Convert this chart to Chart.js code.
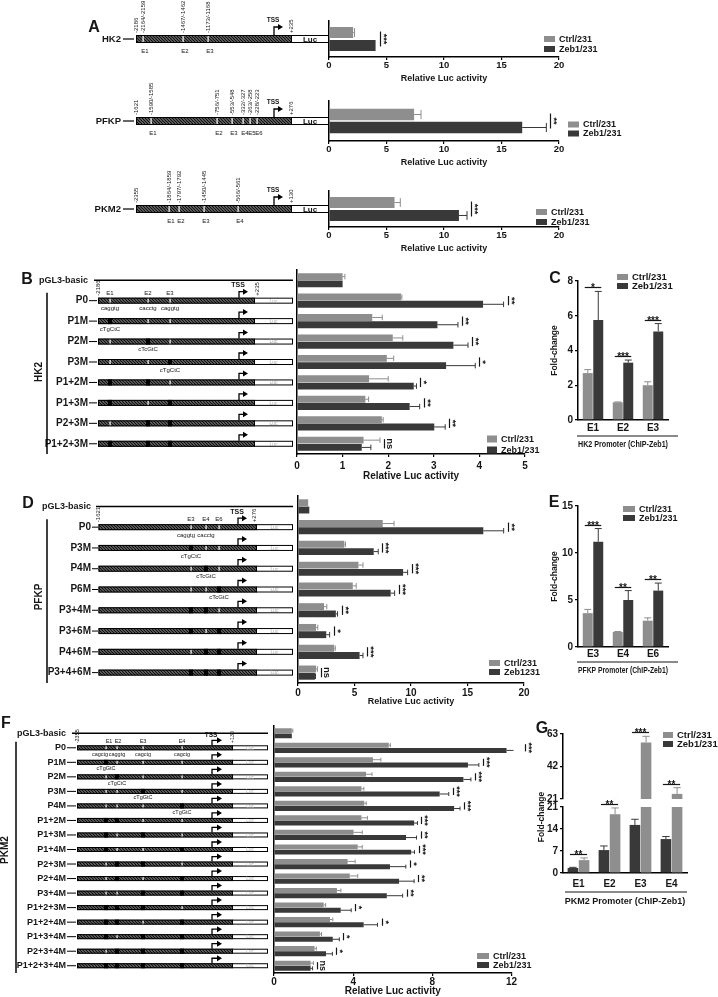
<!DOCTYPE html>
<html>
<head>
<meta charset="utf-8">
<title>Zeb1 promoter reporter assays</title>
<script src="https://cdn.jsdelivr.net/npm/chart.js@4.4.1/dist/chart.umd.min.js"></script>
<style>
  html, body { margin: 0; padding: 0; background: #fff; }
  #page { position: relative; width: 718px; height: 997px; overflow: hidden; background: #fff; }
  #page canvas { position: absolute; left: 0; top: 0; }
</style>
</head>
<body>
<div id="page"></div>
<script>
const W = 718, H = 997;
const FONT = '"Liberation Sans", Arial, Helvetica, sans-serif';
const GRAY = '#8e8e8e';
const DARK = '#393939';
const INK = '#161616';

Chart.defaults.font.family = FONT;
Chart.defaults.color = INK;

// ---- panel A: full-length promoters ----
const aTicks = [0, 5, 10, 15, 20];
const hk2Ctrl = [2.1], hk2CtrlSd = [0.12], hk2Zeb = [4.05], hk2ZebSd = [0], hk2Sig = ['***'];
const pfkpCtrl = [7.4], pfkpCtrlSd = [0.6], pfkpZeb = [16.8], pfkpZebSd = [2.1], pfkpSig = ['**'];
const pkm2Ctrl = [5.7], pkm2CtrlSd = [0.5], pkm2Zeb = [11.3], pkm2ZebSd = [0.7], pkm2Sig = ['***'];

// ---- panel B: HK2 mutants ----
const bTicks = [0, 1, 2, 3, 4, 5];
const bRows = ['pGL3-basic', 'P0', 'P1M', 'P2M', 'P3M', 'P1+2M', 'P1+3M', 'P2+3M', 'P1+2+3M'];
const bCtrl = [1.0, 2.28, 1.65, 2.1, 1.97, 1.58, 1.5, 1.86, 1.46];
const bCtrlSd = [0.05, 0.02, 0.22, 0.22, 0.15, 0.42, 0.07, 0.03, 0.36];
const bZeb = [1.0, 4.08, 3.08, 3.43, 3.27, 2.56, 2.47, 3.01, 1.42];
const bZebSd = [0, 0.45, 0.45, 0.32, 0.64, 0.06, 0.22, 0.24, 0.2];
const bSig = ['', '**', '**', '**', '*', '*', '**', '**', 'ns'];

// ---- panel C: HK2 ChIP ----
const cTicks = [0, 2, 4, 6, 8];
const cSites = ['E1', 'E2', 'E3'];
const cCtrl = [2.7, 1.02, 2.0], cCtrlSd = [0.2, 0.02, 0.2];
const cZeb = [5.75, 3.3, 5.1], cZebSd = [1.65, 0.15, 0.45];
const cSig = ['*', '***', '***'];

// ---- panel D: PFKP mutants ----
const dTicks = [0, 5, 10, 15, 20];
const dRows = ['pGL3-basic', 'P0', 'P3M', 'P4M', 'P6M', 'P3+4M', 'P3+6M', 'P4+6M', 'P3+4+6M'];
const dCtrl = [0.9, 7.5, 4.1, 5.35, 4.85, 2.3, 1.6, 3.2, 1.6];
const dCtrlSd = [0, 1.0, 0.1, 0.4, 0.3, 0.25, 0.15, 0.1, 0.12];
const dZeb = [1.0, 16.4, 6.7, 9.3, 8.2, 3.35, 2.5, 5.45, 1.5];
const dZebSd = [0, 1.8, 0.4, 0.4, 0.35, 0.15, 0.3, 0.3, 0.05];
const dSig = ['', '**', '***', '***', '***', '**', '*', '***', 'ns'];

// ---- panel E: PFKP ChIP ----
const eTicks = [0, 5, 10, 15];
const eSites = ['E3', 'E4', 'E6'];
const eCtrl = [3.6, 1.6, 2.8], eCtrlSd = [0.4, 0.05, 0.3];
const eZeb = [11.2, 5.0, 6.0], eZebSd = [1.4, 1.0, 0.8];
const eSig = ['***', '**', '**'];

// ---- panel F: PKM2 mutants ----
const fTicks = [0, 4, 8, 12];
const fRows = ['pGL3-basic', 'P0', 'P1M', 'P2M', 'P3M', 'P4M', 'P1+2M', 'P1+3M', 'P1+4M',
  'P2+3M', 'P2+4M', 'P3+4M', 'P1+2+3M', 'P1+2+4M', 'P1+3+4M', 'P2+3+4M', 'P1+2+3+4M'];
const fCtrl = [0.9, 5.8, 5.0, 4.65, 4.42, 4.56, 4.42, 4.02, 4.23, 3.72, 3.83, 3.18, 2.51, 2.83, 2.32, 2.05, 1.85];
const fCtrlSd = [0.05, 0.08, 0.4, 0.3, 0.12, 0.1, 0.3, 0.44, 0.23, 0.38, 0.4, 0.2, 0.1, 0.14, 0.08, 0.09, 0.14];
const fZeb = [0.9, 11.75, 9.8, 9.57, 8.37, 9.1, 7.08, 6.67, 6.93, 5.86, 6.32, 5.7, 3.37, 4.53, 2.97, 2.63, 1.85];
const fZebSd = [0, 0.75, 0.55, 0.38, 0.46, 0.3, 0.17, 0.53, 0.17, 0.8, 0.76, 0.8, 0.53, 0.7, 0.33, 0.32, 0.1];
const fSig = ['', '***', '***', '***', '***', '***', '***', '**', '***', '*', '**', '**', '*', '*', '*', '*', 'ns'];

// ---- panel G: PKM2 ChIP (broken axis) ----
const gTicksLow = [0, 7, 14, 21];
const gTicksHigh = [21, 42, 63];
const gSites = ['E1', 'E2', 'E3', 'E4'];
const gCtrl = [1.6, 7.3, 15.3, 10.8], gCtrlSd = [0.2, 1.3, 1.8, 0.8];
const gZeb = [4.1, 18.7, 57.5, 24.3], gZebSd = [0.7, 2.0, 4.0, 4.0];
const gSig = ['**', '**', '***', '**'];

// ---------- helpers ----------
function f(size, weight) { return (weight || 'bold') + ' ' + size + 'px ' + FONT; }

function addCanvas() {
  const c = document.createElement('canvas');
  c.width = W; c.height = H;
  document.getElementById('page').appendChild(c);
  return c;
}

function line(ctx, x1, y1, x2, y2) {
  ctx.beginPath(); ctx.moveTo(x1, y1); ctx.lineTo(x2, y2); ctx.stroke();
}

function rotText(ctx, s, x, yBottom, font) {
  ctx.save();
  ctx.translate(x, yBottom); ctx.rotate(-Math.PI / 2);
  ctx.font = font; ctx.textAlign = 'left'; ctx.textBaseline = 'middle';
  ctx.fillText(s, 0, 0);
  ctx.restore();
}

function hatch(ctx) {
  const t = document.createElement('canvas');
  t.width = 3; t.height = 3;
  const c = t.getContext('2d');
  c.fillStyle = '#fff'; c.fillRect(0, 0, 3, 3);
  c.strokeStyle = '#111'; c.lineWidth = 1.6;
  c.beginPath();
  c.moveTo(-1, -1); c.lineTo(4, 4);
  c.moveTo(-1, 2); c.lineTo(1, 4);
  c.moveTo(2, -1); c.lineTo(4, 1);
  c.stroke();
  return ctx.createPattern(t, 'repeat');
}

function drawConstruct(ctx, p, yc, muts) {
  const top = yc - p.h / 2;
  ctx.fillStyle = hatch(ctx);
  ctx.fillRect(p.x0, top, p.luc - p.x0, p.h);
  p.sites.forEach(s => {
    if (muts.includes(s.n)) { ctx.fillStyle = '#000'; ctx.fillRect(s.x - 2, top, 4, p.h); }
    else { ctx.fillStyle = '#fff'; ctx.fillRect(s.x - 0.5, top, 1.2, p.h); }
  });
  ctx.fillStyle = '#fff';
  ctx.fillRect(p.luc, top, p.x1 - p.luc, p.h);
  ctx.strokeStyle = '#000'; ctx.lineWidth = 1;
  ctx.strokeRect(p.x0 + 0.5, top + 0.5, p.x1 - p.x0 - 1, p.h - 1);
  line(ctx, p.luc + 0.5, top, p.luc + 0.5, top + p.h);
  ctx.fillStyle = p.lucColor; ctx.font = p.lucFont;
  ctx.textAlign = 'center'; ctx.textBaseline = 'middle';
  ctx.fillText('Luc', (p.luc + p.x1) / 2, yc + 0.5);
}

function drawTss(ctx, x, barTop, rise, len) {
  const y = barTop - rise;
  ctx.strokeStyle = '#000'; ctx.lineWidth = 1.3;
  ctx.beginPath(); ctx.moveTo(x, barTop); ctx.lineTo(x, y); ctx.lineTo(x + len - 3, y); ctx.stroke();
  ctx.fillStyle = '#000';
  ctx.beginPath();
  ctx.moveTo(x + len + 1, y); ctx.lineTo(x + len - 4, y - 3); ctx.lineTo(x + len - 4, y + 3);
  ctx.closePath(); ctx.fill();
}

// ---------- plugins ----------
const errorBars = {
  id: 'errorBars',
  afterDatasetsDraw(chart) {
    const ctx = chart.ctx, horiz = chart.options.indexAxis === 'y';
    const vs = horiz ? chart.scales.x : chart.scales.y;
    const a = chart.chartArea;
    ctx.save();
    ctx.beginPath(); ctx.rect(a.left - 2, a.top - 3, a.right - a.left + 4, a.bottom - a.top + 3); ctx.clip();
    chart.data.datasets.forEach((ds, di) => {
      chart.getDatasetMeta(di).data.forEach((el, i) => {
        const sd = ds.sd ? ds.sd[i] : 0;
        if (!sd) return;
        const p0 = vs.getPixelForValue(ds.data[i]), p1 = vs.getPixelForValue(ds.data[i] + sd);
        ctx.strokeStyle = ds.backgroundColor; ctx.lineWidth = 1;
        ctx.beginPath();
        if (horiz) {
          const c = el.height * 0.4;
          ctx.moveTo(p0, el.y); ctx.lineTo(p1, el.y);
          ctx.moveTo(p1, el.y - c); ctx.lineTo(p1, el.y + c);
        } else {
          const c = el.width * 0.35;
          ctx.moveTo(el.x, p0); ctx.lineTo(el.x, p1);
          ctx.moveTo(el.x - c, p1); ctx.lineTo(el.x + c, p1);
        }
        ctx.stroke();
      });
    });
    ctx.restore();
  }
};

function sigMarks(marks, font) {
  return {
    id: 'sigMarks',
    afterDatasetsDraw(chart) {
      const ctx = chart.ctx, horiz = chart.options.indexAxis === 'y';
      const vs = horiz ? chart.scales.x : chart.scales.y;
      const [d0, d1] = chart.data.datasets;
      const e0 = chart.getDatasetMeta(0).data, e1 = chart.getDatasetMeta(1).data;
      ctx.save();
      ctx.strokeStyle = INK; ctx.fillStyle = INK; ctx.lineWidth = 1.2;
      ctx.font = font; ctx.textAlign = 'center';
      marks.forEach((m, i) => {
        if (!m) return;
        const top = Math.max(d0.data[i] + d0.sd[i], d1.data[i] + d1.sd[i]);
        if (horiz) {
          const x = Math.round(vs.getPixelForValue(top)) + 4.5;
          line(ctx, x, e0[i].y - 1, x, e1[i].y + 1);
          ctx.save();
          ctx.translate(x + 5, (e0[i].y + e1[i].y) / 2); ctx.rotate(Math.PI / 2);
          ctx.textBaseline = 'middle'; ctx.fillText(m, 0, m === 'ns' ? 0 : 2);
          ctx.restore();
        } else {
          if (top < vs.min || top > vs.max) return;
          const y = Math.round(vs.getPixelForValue(top)) - 3.5;
          line(ctx, e0[i].x - 3, y, e1[i].x + 3, y);
          ctx.textBaseline = 'alphabetic';
          ctx.fillText(m, (e0[i].x + e1[i].x) / 2, y + 3);
        }
      });
      ctx.restore();
    }
  };
}

function boxLegend(o) {
  return {
    id: 'boxLegend',
    afterDraw(chart) {
      if (!o) return;
      const ctx = chart.ctx;
      ctx.save();
      ctx.font = o.font || f(9); ctx.textAlign = 'left'; ctx.textBaseline = 'middle';
      chart.data.datasets.forEach((ds, i) => {
        ctx.fillStyle = o.colors ? o.colors[i] : ds.backgroundColor;
        ctx.fillRect(o.x, o.y[i] - o.h / 2, o.w, o.h);
        ctx.fillStyle = INK;
        ctx.fillText(ds.label, o.x + o.w + 4, o.y[i] + 0.5);
      });
      ctx.restore();
    }
  };
}

function annot(items) {
  return {
    id: 'annot',
    afterDraw(chart) {
      const ctx = chart.ctx;
      ctx.save();
      items.forEach(it => {
        ctx.strokeStyle = INK; ctx.fillStyle = INK;
        if (it.line) { ctx.lineWidth = it.w || 1.2; line(ctx, ...it.line); return; }
        ctx.font = it.font || f(16); ctx.textAlign = 'center'; ctx.textBaseline = 'middle';
        ctx.save(); ctx.translate(it.x, it.y);
        if (it.rot) ctx.rotate(it.rot);
        ctx.fillText(it.text, 0, 0);
        ctx.restore();
      });
      ctx.restore();
    }
  };
}

// single full-length construct (panel A)
function singleConstruct(p) {
  return {
    id: 'singleConstruct',
    afterDraw(chart) {
      const ctx = chart.ctx;
      const yc = chart.scales.y.getPixelForValue(0);
      const top = yc - p.h / 2;
      ctx.save();
      ctx.fillStyle = INK; ctx.font = f(9.5); ctx.textAlign = 'right'; ctx.textBaseline = 'middle';
      ctx.fillText(chart.data.labels[0], p.labelRight, yc);
      ctx.strokeStyle = '#000'; ctx.lineWidth = 1.2;
      line(ctx, p.dash[0], yc, p.dash[1], yc);
      drawConstruct(ctx, p, yc, []);
      drawTss(ctx, p.tssX, top, 8, 8);
      ctx.fillStyle = INK; ctx.textAlign = 'center'; ctx.textBaseline = 'middle';
      ctx.font = f(6.5);
      ctx.fillText('TSS', p.tssX - 1, top - 15);
      const tiny = f(6, 'normal');
      p.sites.forEach(s => {
        ctx.font = tiny; ctx.textAlign = 'center'; ctx.textBaseline = 'middle';
        ctx.fillText(s.name, s.x + 2, yc + p.h / 2 + 8);
        rotText(ctx, s.pos, s.x, top - 2, tiny);
      });
      rotText(ctx, p.start, p.x0, top - 2, tiny);
      rotText(ctx, p.end, p.endX, top - 2, tiny);
      ctx.restore();
    }
  };
}

// list of constructs drawn next to each bar row (panels B, D, F)
function constructList(p) {
  return {
    id: 'constructList',
    afterDraw(chart) {
      const ctx = chart.ctx, ys = chart.scales.y;
      let firstY = null;
      ctx.save();
      chart.data.labels.forEach((lab, i) => {
        const yc = ys.getPixelForValue(i);
        const isBasic = lab === 'pGL3-basic';
        ctx.fillStyle = INK; ctx.font = isBasic ? p.basicFont : p.rowFont;
        ctx.textAlign = 'right'; ctx.textBaseline = 'middle';
        ctx.fillText(lab, p.labelRight, yc);
        ctx.strokeStyle = '#000';
        if (isBasic) {
          ctx.lineWidth = 1.5;
          line(ctx, p.lineX, yc, p.x1, yc);
          return;
        }
        ctx.lineWidth = 1;
        line(ctx, p.dash[0], yc, p.dash[1], yc);
        const muts = (lab.match(/\d+/g) || []).map(Number);
        drawConstruct(ctx, p, yc, muts);
        const top = yc - p.h / 2;
        drawTss(ctx, p.tssX, top, p.tssRise, p.tssLen);
        ctx.fillStyle = INK; ctx.font = p.tinyFont; ctx.textAlign = 'center'; ctx.textBaseline = 'middle';
        if (lab === 'P0') {
          firstY = yc;
          p.sites.forEach(s => {
            ctx.font = p.tinyFont;
            ctx.fillText(s.name, s.nx || s.x, top - p.nameOff);
            if (s.seq) ctx.fillText(s.seq, s.sx || s.x, yc + p.seqOff);
          });
          ctx.font = p.tssFont;
          ctx.fillText('TSS', p.tssX - 1, top - p.tssTextOff);
          rotText(ctx, p.start, p.x0, top - 2, p.tinyFont);
          rotText(ctx, p.end, p.endX, top - 2, p.tinyFont);
        } else if (muts.length === 1) {
          const s = p.sites.find(q => q.n === muts[0]);
          if (s) ctx.fillText(s.mut, s.x, yc + p.seqOff);
        }
      });
      ctx.strokeStyle = '#000'; ctx.lineWidth = 1.5;
      line(ctx, p.bracketX, firstY - p.bracketPad, p.bracketX, chart.chartArea.bottom);
      ctx.fillStyle = INK;
      ctx.save(); ctx.translate(p.geneX, p.geneY); ctx.rotate(-Math.PI / 2);
      ctx.font = f(10); ctx.textAlign = 'center'; ctx.textBaseline = 'middle';
      ctx.fillText(p.gene, 0, 0);
      ctx.restore();
      ctx.restore();
    }
  };
}

// ---------- chart builders ----------
function lucChart(c) {
  const [x0, y0, x1, yAx] = c.area;
  return new Chart(addCanvas(), {
    type: 'bar',
    data: {
      labels: c.labels,
      datasets: [
        { label: 'Ctrl/231', data: c.ctrl, sd: c.ctrlSd, backgroundColor: GRAY },
        { label: c.zebName || 'Zeb1/231', data: c.zeb, sd: c.zebSd, backgroundColor: DARK }
      ]
    },
    options: {
      indexAxis: 'y',
      responsive: false,
      animation: false,
      events: [],
      layout: { padding: { left: x0, top: y0, right: W - x1, bottom: Math.max(0, H - yAx - c.axisH) } },
      datasets: { bar: { categoryPercentage: c.cat, barPercentage: c.bar } },
      plugins: { legend: { display: false }, tooltip: { enabled: false } },
      scales: {
        y: {
          ticks: { display: false },
          grid: { display: false, drawTicks: false },
          border: { color: '#000', width: 1.5 },
          afterFit: s => { s.width = 0; }
        },
        x: {
          min: c.ticks[0],
          max: c.ticks[c.ticks.length - 1],
          ticks: { stepSize: c.ticks[1] - c.ticks[0], padding: c.tickPad, color: INK, font: { size: c.tickSize, weight: 'bold' } },
          grid: { drawOnChartArea: false, tickLength: 3, color: '#000', lineWidth: 1.2 },
          border: { color: '#000', width: 1.5 },
          title: { display: true, text: 'Relative Luc activity', padding: 0, color: INK, font: { size: c.titleSize, weight: 'bold' } },
          afterFit: s => { s.height = c.axisH; }
        }
      }
    },
    plugins: [errorBars, sigMarks(c.sig, f(c.sigSize)), boxLegend(c.legend), c.schematic, annot(c.annot || [])]
  });
}

function chipChart(c) {
  const [x0, y0, x1, yAx] = c.area;
  const showX = c.axisH > 0;
  return new Chart(addCanvas(), {
    type: 'bar',
    data: {
      labels: c.labels,
      datasets: [
        { label: 'Ctrl/231', data: c.ctrl, sd: c.ctrlSd, backgroundColor: c.colors[0], clip: 0 },
        { label: 'Zeb1/231', data: c.zeb, sd: c.zebSd, backgroundColor: c.colors[1], clip: 0 }
      ]
    },
    options: {
      responsive: false,
      animation: false,
      events: [],
      layout: { padding: { left: x0 - 28, top: y0, right: W - x1, bottom: H - yAx - (showX ? c.axisH : 0) } },
      datasets: { bar: { categoryPercentage: c.cat, barPercentage: 0.95 } },
      plugins: { legend: { display: false }, tooltip: { enabled: false } },
      scales: {
        x: {
          display: showX,
          ticks: { padding: c.tickPad, color: INK, font: { size: 10, weight: 'bold' } },
          grid: { display: false, drawTicks: false },
          border: { color: '#000', width: 1.5 },
          title: { display: !!c.title, text: c.title || '', padding: 0, color: INK, font: { size: c.titleSize || 9, weight: 'bold' } },
          afterFit: s => { s.height = c.axisH; }
        },
        y: {
          min: c.ticks[0],
          max: c.ticks[c.ticks.length - 1],
          ticks: { stepSize: c.ticks[1] - c.ticks[0], padding: 2, color: INK, font: { size: 10, weight: 'bold' } },
          grid: { drawOnChartArea: false, tickLength: 3, color: '#000', lineWidth: 1.2 },
          border: { color: '#000', width: 1.5 },
          title: { display: !!c.yTitle, text: c.yTitle || '', padding: 0, color: INK, font: { size: 8.5, weight: 'bold' } },
          afterFit: s => { s.width = 28; }
        }
      }
    },
    plugins: [errorBars, sigMarks(c.sig, f(10)), boxLegend(c.legend), annot(c.annot || [])]
  });
}

// ---------- panel A ----------
const aBase = { labelRight: 121, dash: [123, 134], x0: 136, x1: 329, luc: 291, h: 8,
  lucFont: f(8), lucColor: INK, tssX: 274, endX: 291 };

lucChart({
  area: [329, 21, 559, 57], axisH: 27, tickPad: 0, tickSize: 9.5, titleSize: 9,
  labels: ['HK2'], ctrl: hk2Ctrl, ctrlSd: hk2CtrlSd, zeb: hk2Zeb, zebSd: hk2ZebSd, sig: hk2Sig, sigSize: 9,
  ticks: aTicks, cat: 0.72, bar: 0.85,
  legend: { x: 544, y: [39, 49], w: 11, h: 6 },
  schematic: singleConstruct(Object.assign({}, aBase, { start: '-2186', end: '+235',
    sites: [{ n: 1, x: 143, name: 'E1', pos: '-2164/-2159' }, { n: 2, x: 183, name: 'E2', pos: '-1467/-1462' },
            { n: 3, x: 208, name: 'E3', pos: '-1173/-1168' }] })),
  annot: [{ text: 'A', x: 94, y: 28, font: f(16) }]
});

lucChart({
  area: [329, 101, 559, 141], axisH: 27, tickPad: 0, tickSize: 9.5, titleSize: 9,
  labels: ['PFKP'], ctrl: pfkpCtrl, ctrlSd: pfkpCtrlSd, zeb: pfkpZeb, zebSd: pfkpZebSd, sig: pfkpSig, sigSize: 9,
  ticks: aTicks, cat: 0.65, bar: 0.88,
  legend: { x: 568, y: [124.5, 133.5], w: 11, h: 6 },
  schematic: singleConstruct(Object.assign({}, aBase, { start: '-1621', end: '+276',
    sites: [{ n: 1, x: 151, name: 'E1', pos: '-1590/-1585' }, { n: 2, x: 217, name: 'E2', pos: '-756/-751' },
            { n: 3, x: 232, name: 'E3', pos: '-553/-548' }, { n: 4, x: 243, name: 'E4', pos: '-332/-327' },
            { n: 5, x: 250, name: 'E5', pos: '-263/-258' }, { n: 6, x: 257, name: 'E6', pos: '-228/-223' }] }))
});

lucChart({
  area: [329, 191, 559, 227], axisH: 27, tickPad: 0, tickSize: 9.5, titleSize: 9,
  labels: ['PKM2'], ctrl: pkm2Ctrl, ctrlSd: pkm2CtrlSd, zeb: pkm2Zeb, zebSd: pkm2ZebSd, sig: pkm2Sig, sigSize: 9,
  ticks: aTicks, cat: 0.72, bar: 0.85,
  legend: { x: 536, y: [212, 222], w: 11, h: 6 },
  schematic: singleConstruct(Object.assign({}, aBase, { start: '-2355', end: '+130',
    sites: [{ n: 1, x: 169, name: 'E1', pos: '-1864/-1859' }, { n: 2, x: 179, name: 'E2', pos: '-1797/-1792' },
            { n: 3, x: 204, name: 'E3', pos: '-1450/-1445' }, { n: 4, x: 238, name: 'E4', pos: '-566/-561' }] }))
});

// ---------- panel B ----------
lucChart({
  area: [297, 270, 525, 454], axisH: 28.4, tickPad: 3, tickSize: 10, titleSize: 10,
  labels: bRows, ctrl: bCtrl, ctrlSd: bCtrlSd, zeb: bZeb, zebSd: bZebSd, sig: bSig, sigSize: 9.5,
  ticks: bTicks, cat: 0.71, bar: 0.95,
  legend: { x: 487, y: [439, 450], w: 10, h: 7 },
  schematic: constructList({
    rowFont: f(10), basicFont: f(9), tinyFont: f(6, 'normal'), tssFont: f(7),
    labelRight: 88, dash: [89, 97], lineX: 94,
    x0: 98, x1: 293, luc: 254, h: 6, lucFont: f(5, 'normal'), lucColor: '#aaa',
    tssX: 239, tssRise: 6, tssLen: 8, tssTextOff: 13, nameOff: 4, seqOff: 8,
    start: '-2186', end: '+235', endX: 257,
    sites: [
      { n: 1, x: 110, name: 'E1', seq: 'caggtg', mut: 'cTgCtC' },
      { n: 2, x: 148, name: 'E2', seq: 'cacctg', mut: 'cTcGtC' },
      { n: 3, x: 170, name: 'E3', seq: 'caggtg', mut: 'cTgCtC' }
    ],
    gene: 'HK2', geneX: 39, geneY: 372, bracketX: 47, bracketPad: 8
  }),
  annot: [{ text: 'B', x: 27, y: 280, font: f(16) }]
});

// ---------- panel C ----------
chipChart({
  area: [578, 281, 668, 420], axisH: 30, tickPad: 2, cat: 0.7,
  labels: cSites, ctrl: cCtrl, ctrlSd: cCtrlSd, zeb: cZeb, zebSd: cZebSd, sig: cSig,
  colors: [GRAY, DARK], ticks: cTicks,
  title: 'HK2 Promoter (ChIP-Zeb1)', titleSize: 9, yTitle: 'Fold-change',
  legend: { x: 617, y: [277, 286], w: 11, h: 6, font: f(9.5) },
  annot: [{ text: 'C', x: 555, y: 279, font: f(16) }, { line: [577, 436, 678, 436] }]
});

// ---------- panel D ----------
lucChart({
  area: [298, 496, 524, 683], axisH: 24.4, tickPad: 1, tickSize: 10, titleSize: 9,
  labels: dRows, ctrl: dCtrl, ctrlSd: dCtrlSd, zeb: dZeb, zebSd: dZebSd, zebName: 'Zeb1231', sig: dSig, sigSize: 9.5,
  ticks: dTicks, cat: 0.7, bar: 0.95,
  legend: { x: 489, y: [663, 672], w: 11, h: 6 },
  schematic: constructList({
    rowFont: f(10), basicFont: f(9), tinyFont: f(6, 'normal'), tssFont: f(7),
    labelRight: 91, dash: [92, 98], lineX: 96,
    x0: 98.5, x1: 293, luc: 256, h: 6, lucFont: f(5, 'normal'), lucColor: '#aaa',
    tssX: 238, tssRise: 6, tssLen: 8, tssTextOff: 12, nameOff: 5, seqOff: 8,
    start: '-1621', end: '+276', endX: 254,
    sites: [
      { n: 3, x: 191, sx: 186, name: 'E3', seq: 'caggtg', mut: 'cTgCtC' },
      { n: 4, x: 206, sx: 206, name: 'E4', seq: 'cacctg', mut: 'cTcGtC' },
      { n: 6, x: 219, name: 'E6', seq: '', mut: 'cTcGtC' }
    ],
    gene: 'PFKP', geneX: 39, geneY: 597, bracketX: 47, bracketPad: 8
  }),
  annot: [{ text: 'D', x: 28, y: 504, font: f(16) }]
});

// ---------- panel E ----------
chipChart({
  area: [578, 506, 668, 647], axisH: 29.4, tickPad: 1, cat: 0.7,
  labels: eSites, ctrl: eCtrl, ctrlSd: eCtrlSd, zeb: eZeb, zebSd: eZebSd, sig: eSig,
  colors: [GRAY, DARK], ticks: eTicks,
  title: 'PFKP Promoter (ChIP-Zeb1)', titleSize: 9.5, yTitle: 'Fold-change',
  legend: { x: 623, y: [509, 518], w: 12, h: 6 },
  annot: [{ text: 'E', x: 554, y: 503, font: f(16) }, { line: [577, 662, 678, 662] }]
});

// ---------- panel F ----------
lucChart({
  area: [274, 726, 511.5, 973], axisH: 24, tickPad: 0, tickSize: 10, titleSize: 10,
  labels: fRows, ctrl: fCtrl, ctrlSd: fCtrlSd, zeb: fZeb, zebSd: fZebSd, sig: fSig, sigSize: 9,
  ticks: fTicks, cat: 0.72, bar: 0.95,
  legend: { x: 477, y: [956, 965], w: 12, h: 6 },
  schematic: constructList({
    rowFont: f(9), basicFont: f(9), tinyFont: f(5.5, 'normal'), tssFont: f(6.5),
    labelRight: 66, dash: [67, 76], lineX: 72,
    x0: 77, x1: 268, luc: 232, h: 5, lucFont: f(4.5, 'normal'), lucColor: '#aaa',
    tssX: 212, tssRise: 5, tssLen: 9, tssTextOff: 10, nameOff: 3.5, seqOff: 6.5,
    start: '-2355', end: '+130', endX: 232,
    sites: [
      { n: 1, x: 106, nx: 109, sx: 100, name: 'E1', seq: 'cagctg', mut: 'cTgGtC' },
      { n: 2, x: 117, nx: 118, sx: 117, name: 'E2', seq: 'caggtg', mut: 'cTgCtC' },
      { n: 3, x: 143, name: 'E3', seq: 'cagctg', mut: 'cTgGtC' },
      { n: 4, x: 182, name: 'E4', seq: 'cagctg', mut: 'cTgGtC' }
    ],
    gene: 'PKM2', geneX: 5, geneY: 850, bracketX: 16, bracketPad: 6
  }),
  annot: [{ text: 'F', x: 6, y: 724, font: f(16) }]
});

// ---------- panel G (two charts form the broken axis) ----------
chipChart({
  area: [563, 807, 687, 873], axisH: 34.4, tickPad: 5, cat: 0.72,
  labels: gSites, ctrl: gCtrl, ctrlSd: gCtrlSd, zeb: gZeb, zebSd: gZebSd, sig: gSig,
  colors: [DARK, GRAY], ticks: gTicksLow,
  title: 'PKM2 Promoter (ChIP-Zeb1)', titleSize: 9,
  legend: { x: 663, y: [735, 744], w: 10, h: 6, colors: [GRAY, DARK], font: f(9.5) },
  annot: [
    { text: 'G', x: 542, y: 729, font: f(16) },
    { line: [565, 892, 687, 892] },
    { text: 'Fold-change', x: 542, y: 817, rot: -Math.PI / 2, font: f(8.5) }
  ]
});

chipChart({
  area: [563, 734, 687, 799], axisH: 0, tickPad: 0, cat: 0.72,
  labels: gSites, ctrl: gCtrl, ctrlSd: gCtrlSd, zeb: gZeb, zebSd: gZebSd, sig: gSig,
  colors: [DARK, GRAY], ticks: gTicksHigh
});
</script>
</body>
</html>
